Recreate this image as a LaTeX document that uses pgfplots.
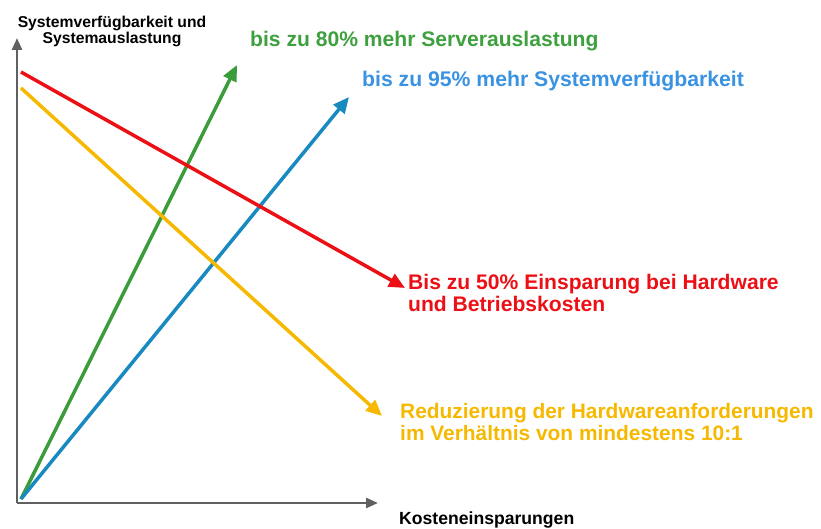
\documentclass[border=0pt]{standalone}
\usepackage{fontspec}
\setmainfont{Liberation Sans}
\usepackage{pgfplots}
\pgfplotsset{compat=1.18}
\usetikzlibrary{arrows.meta}
\definecolor{cgreen}{RGB}{58,156,58}
\definecolor{cgreentext}{RGB}{62,160,62}
\definecolor{cblue}{RGB}{24,138,192}
\definecolor{cbluetext}{RGB}{58,146,226}
\definecolor{cred}{RGB}{236,16,22}
\definecolor{cyellow}{RGB}{246,184,0}
\definecolor{caxis}{RGB}{96,96,96}
\begin{document}
\begin{tikzpicture}
\begin{axis}[width=821pt,height=529pt,scale only axis,
  xmin=0,xmax=821,ymin=0,ymax=529,y dir=reverse,
  axis lines=none,clip=false,enlargelimits=false]
\path (axis cs:0,0) (axis cs:821,529);
% axes
\addplot[draw=caxis, line width=2.6pt, -{Triangle[length=12pt,width=10pt]}] coordinates {(17,503) (378,503)};
\addplot[draw=caxis, line width=2.6pt, -{Triangle[length=12pt,width=10pt]}] coordinates {(17,503) (17,38)};
% lines
\addplot[draw=cgreen, line width=3.5pt, -{Triangle[length=16pt,width=14pt]}] coordinates {(21,499) (237,65)};
\addplot[draw=cblue, line width=3.5pt, -{Triangle[length=16pt,width=14pt]}] coordinates {(21,499) (349,97)};
\addplot[draw=cred, line width=3.5pt, -{Triangle[length=16pt,width=14pt]}] coordinates {(21,72) (405,288)};
\addplot[draw=cyellow, line width=3.5pt, -{Triangle[length=16pt,width=14pt]}] coordinates {(21,88) (382,416)};
% labels
\node[anchor=base,inner sep=0,font=\bfseries\fontsize{15.7}{18}\selectfont] at (axis cs:112,28) {Systemverfügbarkeit und};
\node[anchor=base,inner sep=0,font=\bfseries\fontsize{15.7}{18}\selectfont] at (axis cs:112,44) {Systemauslastung};
\node[anchor=base west,inner sep=0,font=\bfseries\fontsize{17.6}{20}\selectfont] at (axis cs:399,524) {Kosteneinsparungen};
\node[anchor=base west,inner sep=0,text=cgreentext,font=\bfseries\fontsize{21.1}{24}\selectfont] at (axis cs:250,47) {bis zu 80\% mehr Serverauslastung};
\node[anchor=base west,inner sep=0,text=cbluetext,font=\bfseries\fontsize{21.2}{24}\selectfont] at (axis cs:362,87) {bis zu 95\% mehr Systemverfügbarkeit};
\node[anchor=base west,inner sep=0,text=cred,font=\bfseries\fontsize{21.1}{24}\selectfont] at (axis cs:408,289) {Bis zu 50\% Einsparung bei Hardware};
\node[anchor=base west,inner sep=0,text=cred,font=\bfseries\fontsize{21.1}{24}\selectfont] at (axis cs:408,311) {und Betriebskosten};
\node[anchor=base west,inner sep=0,text=cyellow,font=\bfseries\fontsize{20.9}{24}\selectfont] at (axis cs:400,418) {Reduzierung der Hardwareanforderungen};
\node[anchor=base west,inner sep=0,text=cyellow,font=\bfseries\fontsize{20.9}{24}\selectfont] at (axis cs:400,440) {im Verhältnis von mindestens 10:1};
\end{axis}
\end{tikzpicture}
\end{document}
